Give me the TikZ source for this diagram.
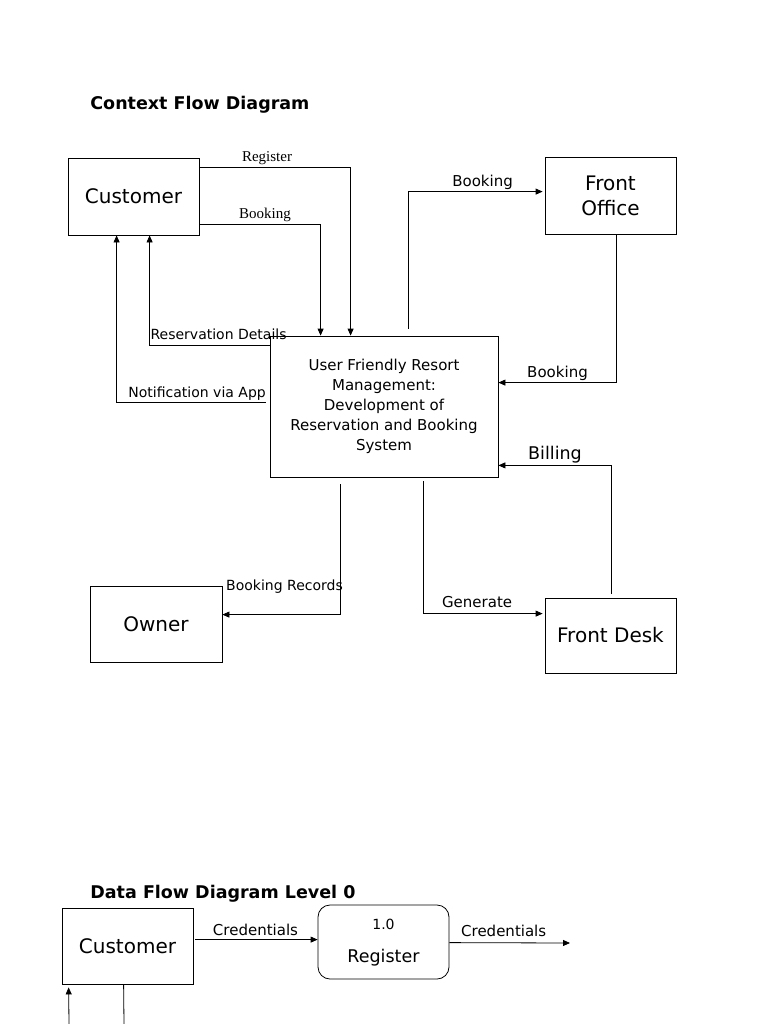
\documentclass[tikz,border=0pt]{standalone}
\usepackage{fontspec}
\setmainfont{DejaVu Sans}
\newfontfamily\timesfont{Liberation Serif}
\usetikzlibrary{arrows.meta}

\begin{document}
\begin{tikzpicture}[x=1pt,y=-1pt,>={Triangle[length=7pt,width=6pt]},line width=0.8pt,
    entity/.style={draw,minimum width=131pt,minimum height=77pt,font=\fontsize{20}{25}\selectfont,align=center,inner sep=0pt},
    process/.style={draw,minimum width=228pt,minimum height=141pt,font=\fontsize{15}{20}\selectfont,align=center},
    lbl/.style={font=\fontsize{14}{16}\selectfont,inner sep=2pt},
    mlbl/.style={font=\fontsize{15}{18}\selectfont,inner sep=2pt},
    slbl/.style={font=\timesfont\fontsize{15}{18}\selectfont,inner sep=2pt},
    title/.style={anchor=west,inner sep=0pt,font=\fontsize{17.5}{21}\selectfont\bfseries}]
    \useasboundingbox (0,0) rectangle (768,1024);

    % context flow diagram
    \node[title] (t1) at (90,105) {Context Flow Diagram};
    \node[entity] (cust)  at (133.5,196.5) {Customer};
    \node[entity] (fo)    at (610.5,195.5) {Front\\Office};
    \node[process] (main) at (384,406.5) {User Friendly Resort\\Management:\\Development of\\Reservation and Booking\\System};
    \node[entity,minimum width=132pt,minimum height=76pt] (owner) at (156,624) {Owner};
    \node[entity,minimum height=75pt] (fd) at (610.5,635.5) {Front Desk};

    \draw[->] ([yshift=-10pt]cust.north east) -| node[slbl,above,pos=0.25,xshift=-8pt] {Register} ([xshift=81pt]main.north west);
    \draw[->] ([yshift=11pt]cust.south east) -| node[slbl,above,pos=0.25,xshift=5pt] {Booking} ([xshift=51pt]main.north west);
    \draw[->] ([yshift=-10pt]main.north west) -| node[lbl,above=4pt,pos=0.25,xshift=9pt] {Reservation Details} ([xshift=82pt]cust.south west);
    \draw[->,shorten <=4pt] ([yshift=-67pt]main.north west) -| node[lbl,above,pos=0.25,xshift=4pt] {Notification via App} ([xshift=49pt]cust.south west);
    \draw[->,shorten <=7pt,shorten >=2pt] ([xshift=139pt]main.north west) |- node[mlbl,above,pos=0.75,xshift=6pt] {Booking} ([yshift=-35pt]fo.north west);
    \draw[->] ([xshift=72pt]fo.south west) |- node[mlbl,above,pos=0.75] {Booking} ([yshift=-47pt]main.north east);
    \draw[->,shorten <=4pt] ([xshift=67pt]fd.north west) |- node[lbl,font=\fontsize{17.5}{20}\selectfont,above,pos=0.75] {Billing} ([yshift=12pt]main.south east);
    \draw[->,shorten <=7pt] ([xshift=71pt]main.south west) |- node[lbl,above=19pt,pos=0.75,xshift=3pt] {Booking Records} ([yshift=-29pt]owner.north east);
    \draw[->,shorten <=4pt,shorten >=2pt] ([xshift=154pt]main.south west) |- node[mlbl,above=3pt,pos=0.75,xshift=-7pt] {Generate} ([yshift=-16pt]fd.north west);

    % data flow diagram level 0
    \node[title] (t2) at (90,894) {Data Flow Diagram Level 0};
    \node[entity,minimum height=76pt] (c0) at (127.5,946) {Customer};
    \node[entity,minimum height=74pt,rounded corners=12pt] (reg) at (383.5,942) {};
    \node[font=\fontsize{14}{16}\selectfont] (regno) at ([yshift=-20pt]reg.north) {1.0};
    \node[font=\fontsize{17.5}{20}\selectfont] (regname) at ([yshift=-16pt]reg.center) {Register};
    \coordinate (regout) at (570,943);
    \coordinate (c0in) at (69,1024);
    \coordinate (c0down) at (124,1024);

    \draw[->,shorten <=2pt] ([yshift=-32pt]c0.north east) -- node[mlbl,above=2pt] {Credentials} ([yshift=-35pt]reg.north west);
    \draw[->] ([yshift=-38pt]reg.north east) -- node[mlbl,above=4pt,xshift=-6pt] {Credentials} (regout);
    \draw[->,shorten >=3pt] (c0in) -- ([xshift=7pt]c0.south west);
    \draw ([xshift=62pt]c0.south west) -- (c0down);
\end{tikzpicture}
\end{document}
